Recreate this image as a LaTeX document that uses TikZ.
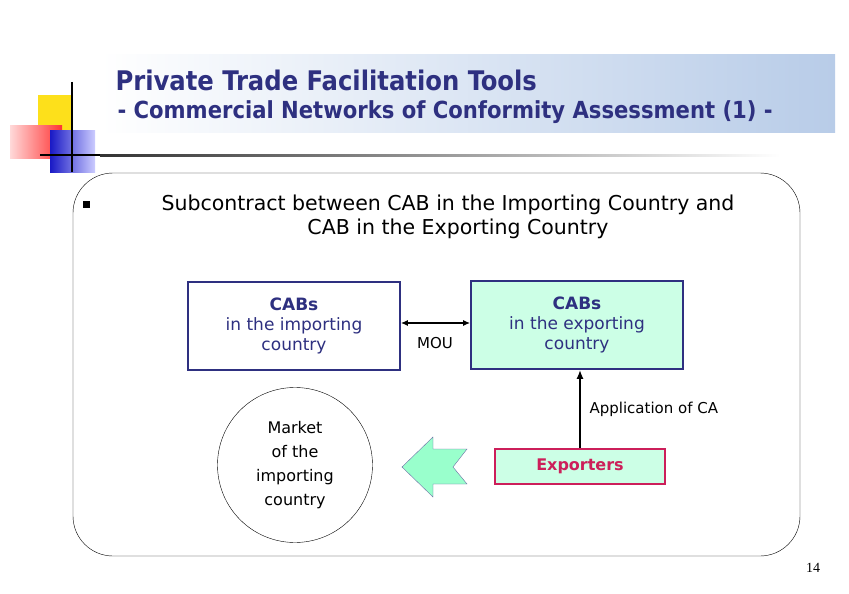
\documentclass[tikz,border=0pt]{standalone}
\usepackage{fontspec}
\setmainfont{DejaVu Sans}
\newfontfamily\cond{DejaVu Sans Condensed}
\newfontfamily\serif{Liberation Serif}
\usetikzlibrary{arrows.meta}
\definecolor{navy}{HTML}{2E3080}
\definecolor{mint}{HTML}{CCFFE6}
\definecolor{mint2}{HTML}{99FFCC}
\definecolor{crim}{HTML}{CC1F5A}
\definecolor{band}{HTML}{B8CCE8}
\begin{document}
\begin{tikzpicture}[x=1pt,y=-1pt,
  box/.style={draw=navy,line width=1.6pt,minimum width=212pt,minimum height=88pt,align=center,text=navy,font=\fontsize{17}{20}\selectfont},
  lbl/.style={font=\fontsize{15}{18}\selectfont,align=center}]
\useasboundingbox (0,0) rectangle (849,594);
\fill[white] (0,0) rectangle (849,594);
% title band
\shade[left color=white,right color=band] (100,55) rectangle (835,132);
% decoration
\fill[yellow!80!orange!90] (38,95) rectangle (72,130);
\shade[left color=red!15,right color=red!80] (10,125) rectangle (62,158);
\shade[left color=blue!75!black!90,right color=blue!20] (50,130) rectangle (95,172);
\draw[line width=1.5pt] (72,82) -- (72,172);
\draw[line width=1.5pt] (40,155) -- (100,155);
\shade[left color=black!80,right color=white] (100,154) rectangle (780,156.5);
\node[anchor=west,text=navy,font=\cond\bfseries\fontsize{27}{30}\selectfont] (t1) at (112,80) {Private Trade Facilitation Tools};
\node[anchor=west,text=navy,font=\cond\bfseries\fontsize{23.5}{26}\selectfont] (t2) at (114,112) {- Commercial Networks of Conformity Assessment (1) -};
% frame
\draw[rounded corners=40pt] (73,173) rectangle (800,556);
\fill (83,201) rectangle (90,208);
\node[anchor=west,font=\fontsize{20.5}{24}\selectfont] (s1) at (158,205) {Subcontract between CAB in the Importing Country and};
\node[font=\fontsize{20.5}{24}\selectfont] (s2) at (458,229) {CAB in the Exporting Country};
% boxes
\node[box,fill=white] (imp) at (294,326) {\textbf{CABs}\\in the importing\\country};
\node[box,fill=mint] (exp) at (577,325) {\textbf{CABs}\\in the exporting\\country};
\draw[{Latex[length=7pt,width=6pt]}-{Latex[length=7pt,width=6pt]},line width=1.5pt] (imp.east|-0,323) -- (exp.west|-0,323);
\node[lbl] (mou) at (435,343) {MOU};
\node[circle,draw,minimum size=155pt,lbl,font=\fontsize{16}{24}\selectfont] (mkt) at (295,465) {Market\\ of the\\importing\\country};
\node[draw=crim,line width=1.6pt,fill=mint,minimum width=170pt,minimum height=35pt,text=crim,font=\bfseries\fontsize{16}{18}\selectfont] (ex) at (580,466.5) {Exporters};
\draw[-{Latex[length=9pt,width=7pt]},line width=1.8pt] (ex.north) -- (exp.south-|ex.north);
\node[lbl,anchor=west] (app) at (586,409) {Application of CA};
\draw[fill=mint2,draw=navy!70] (402,467) -- (433,437) -- (433,449) -- (467,449) -- (453,467) -- (467,484) -- (433,484) -- (433,497) -- cycle;
\node[font=\serif\fontsize{14}{16}\selectfont] (pg) at (813,568) {14};
\end{tikzpicture}
\end{document}
